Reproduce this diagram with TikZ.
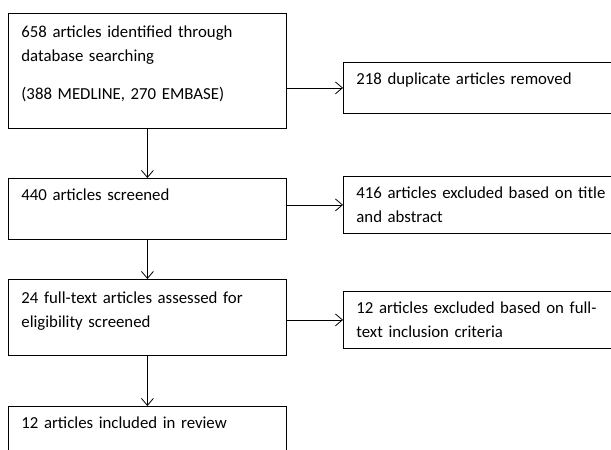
\documentclass[tikz,border=0pt]{standalone}
\usepackage{fontspec}
\setmainfont{Carlito}
\usetikzlibrary{arrows.meta}
\tikzset{
  flowbox/.style={draw, line width=0.8pt, anchor=north west, inner xsep=13pt,
    inner ysep=0pt, align=left, text height=22pt,
    font=\fontsize{16.8}{24.5}\selectfont},
  leftbox/.style={flowbox, text width=252pt},
  rightbox/.style={flowbox, text width=274pt},
  flowarrow/.style={-{Straight Barb[length=7pt,width=12pt]}, line width=0.8pt}
}
\begin{document}
\begin{tikzpicture}[x=1pt, y=-1pt]
  \useasboundingbox (0,0) rectangle (611,450);
  \clip (0,0) rectangle (611,450);
  % main column
  \node[leftbox, text height=24pt, text depth=91pt] (ident) at (8,13)
    {658 articles identified through\\database searching\\[13pt](388 MEDLINE, 270 EMBASE)};
  \node[leftbox, text depth=39pt] (screen) at (8,178) {440 articles screened};
  \node[leftbox, text height=24pt, text depth=52pt] (full) at (8,279)
    {24 full-text articles assessed for\\eligibility screened};
  \node[leftbox, text depth=48pt] (incl) at (8,406) {12 articles included in review};
  % side column
  \node[rightbox, text depth=29pt] (dup) at (343,62) {218 duplicate articles removed};
  \node[rightbox, text depth=35pt] (excl1) at (343,176)
    {416 articles excluded based on title\\and abstract};
  \node[rightbox, text depth=35pt] (excl2) at (343,291)
    {12 articles excluded based on full-\\text inclusion criteria};
  % arrows
  \draw[flowarrow] (ident.south) -- (screen.north);
  \draw[flowarrow] (screen.south) -- (full.north);
  \draw[flowarrow] (full.south) -- (incl.north);
  \draw[flowarrow] (ident.east |- dup.west) -- (dup.west);
  \draw[flowarrow] (screen.east |- excl1.west) -- (excl1.west);
  \draw[flowarrow] (full.east |- excl2.west) -- (excl2.west);
\end{tikzpicture}
\end{document}
